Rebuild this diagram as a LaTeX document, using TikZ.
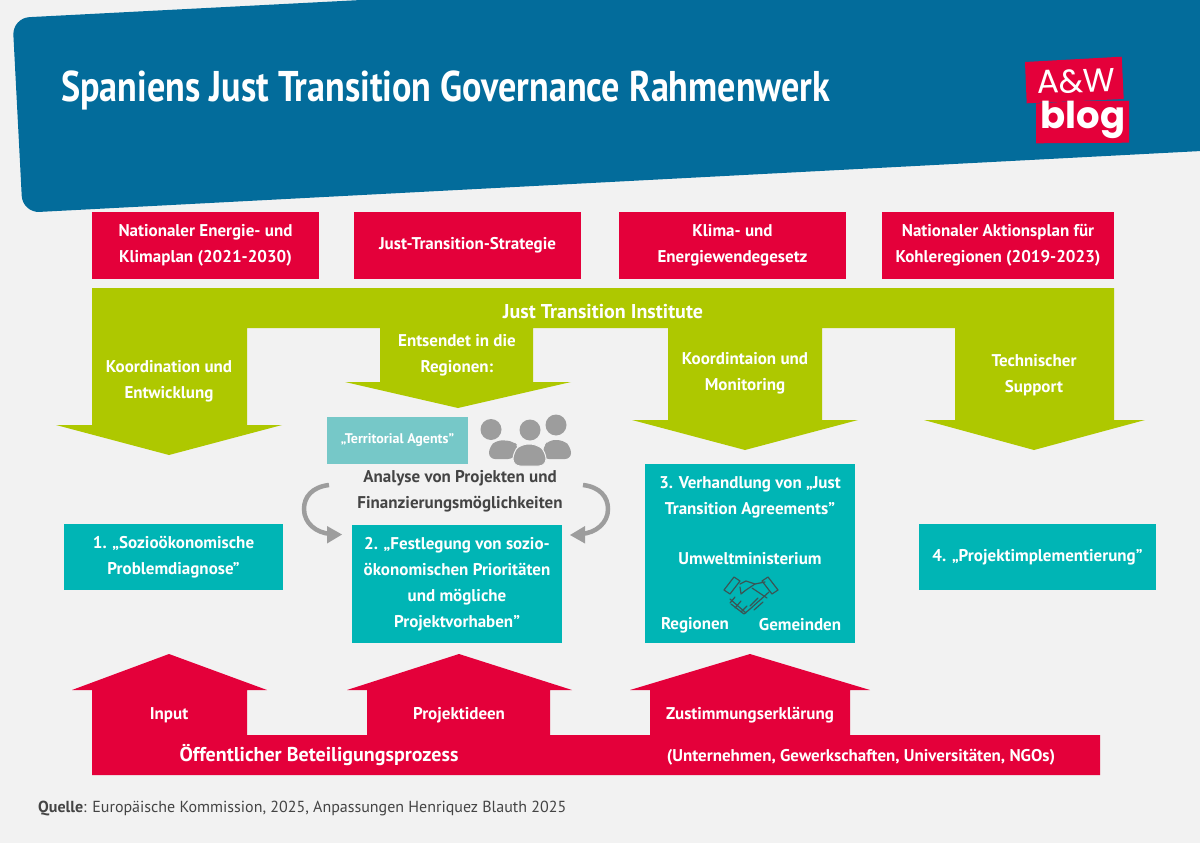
\documentclass[tikz,border=0pt]{standalone}
\usepackage{fontspec}
\setmainfont{PT Sans}
\newfontfamily\titlefont[FakeStretch=0.84]{PT Sans}
\newfontfamily\logofont{Poppins}
\definecolor{bgc}{HTML}{F2F2F2}
\definecolor{headc}{HTML}{036C9B}
\definecolor{redc}{HTML}{E4003A}
\definecolor{greenc}{HTML}{AEC800}
\definecolor{tealc}{HTML}{00B5B5}
\definecolor{lteal}{HTML}{76C8C8}
\definecolor{greyc}{HTML}{9D9D9D}
\definecolor{darkc}{HTML}{444444}
\tikzset{
 x=1pt,y=-1pt,
 lbl/.style={text=white,font=\fontsize{17}{26}\selectfont\bfseries,align=center,inner sep=0pt},
 redbox/.style={fill=redc,lbl,anchor=center},
 tealbox/.style={fill=tealc,lbl},
 darklbl/.style={lbl,text=darkc},
 curvearrow/.style={draw=greyc,line width=4.5pt},
}
\begin{document}
\begin{tikzpicture}
\useasboundingbox (0,0) rectangle (1200,843);
\fill[bgc] (0,0) rectangle (1200,843);
\begin{scope}
\clip (0,0) rectangle (1200,843);
\fill[headc,rounded corners=17pt] (12.5,18) -- (400,-2) -- (1230,-45) -- (1230,149.5) -- (22.6,212.8) -- cycle;
\end{scope}
\node[anchor=base west,inner sep=0pt,text=white,font=\titlefont\fontsize{43}{50}\selectfont\bfseries] (title) at (61,101) {Spaniens Just Transition Governance Rahmenwerk};
% logo
\fill[redc] (1025,62) -- (1121.7,56.7) -- (1123.7,99) -- (1026.7,103.3) -- cycle;
\fill[redc] (1036,103.5) -- (1083,100.7) -- (1129,101) -- (1129,142.7) -- (1036,143.3) -- cycle;
\node[inner sep=0pt,text=white,rotate=2,font=\logofont\fontsize{33}{33}\selectfont] (logoa) at (1076,81) {A\&W};
\node[inner sep=0pt,text=white,font=\logofont\fontsize{37}{37}\selectfont\bfseries] (logob) at (1083,120) {blog};
% top boxes
\node[redbox,minimum width=227pt,minimum height=67pt] (b1) at (205.5,245.5) {Nationaler Energie- und\\Klimaplan (2021-2030)};
\node[redbox,minimum width=227pt,minimum height=67pt] (b2) at (467.5,245.5) {Just-Transition-Strategie};
\node[redbox,minimum width=227pt,minimum height=67pt] (b3) at (732.5,245.5) {Klima- und\\Energiewendegesetz};
\node[redbox,minimum width=232pt,minimum height=67pt] (b4) at (998,245.5) {Nationaler Aktionsplan für\\Kohleregionen (2019-2023)};
% green
\fill[greenc] (92,288) -- (1114,288) -- (1114,420) -- (1145,420) -- (1034,450) -- (924,420) -- (955,420) -- (955,328) -- (822,328) -- (822,420) -- (858,420) -- (745,450) -- (632,420) -- (668,420) -- (668,328) -- (533,328) -- (533,382) -- (571,382) -- (458,408) -- (345,382) -- (380,382) -- (380,328) -- (247,328) -- (247,425) -- (282,425) -- (169,455) -- (56,425) -- (92,425) -- cycle;
\node[lbl,font=\fontsize{20}{26}\selectfont\bfseries] (jti) at (603,312) {Just Transition Institute};
\node[lbl] (g1) at (169,381) {Koordination und\\Entwicklung};
\node[lbl] (g2) at (457,355) {Entsendet in die\\Regionen:};
\node[lbl] (g3) at (745,373.5) {Koordintaion und\\Monitoring};
\node[lbl] (g4) at (1034,375) {Technischer\\Support};
% middle
\node[fill=lteal,minimum width=141pt,minimum height=47pt,inner sep=0pt,text=white,font=\fontsize{14}{16}\selectfont\bfseries] (ta) at (397.5,440.5) {„Territorial Agents"};
\fill[greyc] (491,429.5) circle (10.5);
\fill[greyc] (556,425) circle (10.5);
\fill[greyc] (530,430) circle (10.5);
\fill[greyc,rounded corners=6pt] (489,459) -- (489,447) -- (497,440) -- (513,441) -- (519,447) -- (514,459) -- cycle;
\fill[greyc,rounded corners=6pt] (543,459) -- (543,447) -- (549,440) -- (563,440) -- (571,447) -- (571,459) -- cycle;
\fill[greyc,rounded corners=7pt,draw=bgc,line width=1pt] (513,466) -- (513,452) -- (521,444) -- (537,444) -- (546,452) -- (546,466) -- cycle;
\node[darklbl] (an) at (460,491) {Analyse von Projekten und\\Finanzierungsmöglichkeiten};
\node[tealbox,minimum width=219pt,minimum height=66pt] (s1) at (173.5,557) {1. „Sozioökonomische\\Problemdiagnose"};
\node[tealbox,minimum width=210pt,minimum height=118pt] (s2) at (457,584) {2. „Festlegung von sozio-\\ökonomischen Prioritäten\\und mögliche\\Projektvorhaben"};
\node[fill=tealc,minimum width=210pt,minimum height=179pt,inner sep=0pt] (s3) at (750,553.5) {};
\node[lbl] (s3a) at (750,497.5) {3. Verhandlung von „Just\\Transition Agreements"};
\node[lbl] (s3b) at (750,559) {Umweltministerium};
\node[lbl] (s3c) at (695,625) {Regionen};
\node[lbl] (s3d) at (800,625) {Gemeinden};
\node[tealbox,minimum width=237pt,minimum height=66pt] (s4) at (1037.5,557) {4. „Projektimplementierung"};
% curved arrows
\draw[curvearrow] (329,485) .. controls (312,487) and (304,497) .. (304,509) .. controls (304,523) and (316,533) .. (331,534);
\fill[greyc] (342,534.5) -- (327,526) -- (327,543.5) -- cycle;
\draw[curvearrow] (583,485) .. controls (600,487) and (608,497) .. (608,509) .. controls (608,523) and (596,533) .. (581,534);
\fill[greyc] (570,535) -- (585,526) -- (585,543.5) -- cycle;
% handshake
\begin{scope}[draw=darkc!85!tealc,line width=1.2pt,line join=round,line cap=round]
\draw (724,590) -- (734,577) -- (740,581) -- (730,594) -- cycle;
\draw (778,590) -- (768,577) -- (762,581) -- (772,594) -- cycle;
\draw (740,584) -- (746,581) -- (755,584) -- (765,582);
\draw (769,592) -- (750,609) -- (744,614) -- (731,604);
\draw (755,584) -- (746,590) -- (741,594) -- (740,587);
\draw (752,588) -- (767,598);
\draw (730,599) -- (746,613);
\draw (735,597) -- (730,603);
\draw (741,601) -- (735,608);
\draw (747,606) -- (741,612);
\draw (758,598) -- (750,606);
\draw (763,602) -- (754,610);
\end{scope}
% bottom red
\fill[redc] (92,775) -- (92,690) -- (72,690) -- (169,654) -- (267,690) -- (247,690) -- (247,735) -- (367,735) -- (367,690) -- (347,690) -- (459,654) -- (572,690) -- (550,690) -- (550,735) -- (650,735) -- (650,690) -- (630,690) -- (750,654) -- (870,690) -- (850,690) -- (850,735) -- (1100,735) -- (1100,775) -- cycle;
\node[lbl] (r1) at (169,715) {Input};
\node[lbl] (r2) at (459,715) {Projektideen};
\node[lbl] (r3) at (750,715) {Zustimmungserklärung};
\node[lbl,font=\fontsize{20}{26}\selectfont\bfseries] (r4) at (319,755) {Öffentlicher Beteiligungsprozess};
\node[lbl] (r5) at (861,757) {(Unternehmen, Gewerkschaften, Universitäten, NGOs)};
\node[anchor=base west,inner sep=0pt,text=darkc,font=\fontsize{16}{20}\selectfont] (src) at (38,812) {\textbf{Quelle}: Europäische Kommission, 2025, Anpassungen Henriquez Blauth 2025};
\end{tikzpicture}
\end{document}
